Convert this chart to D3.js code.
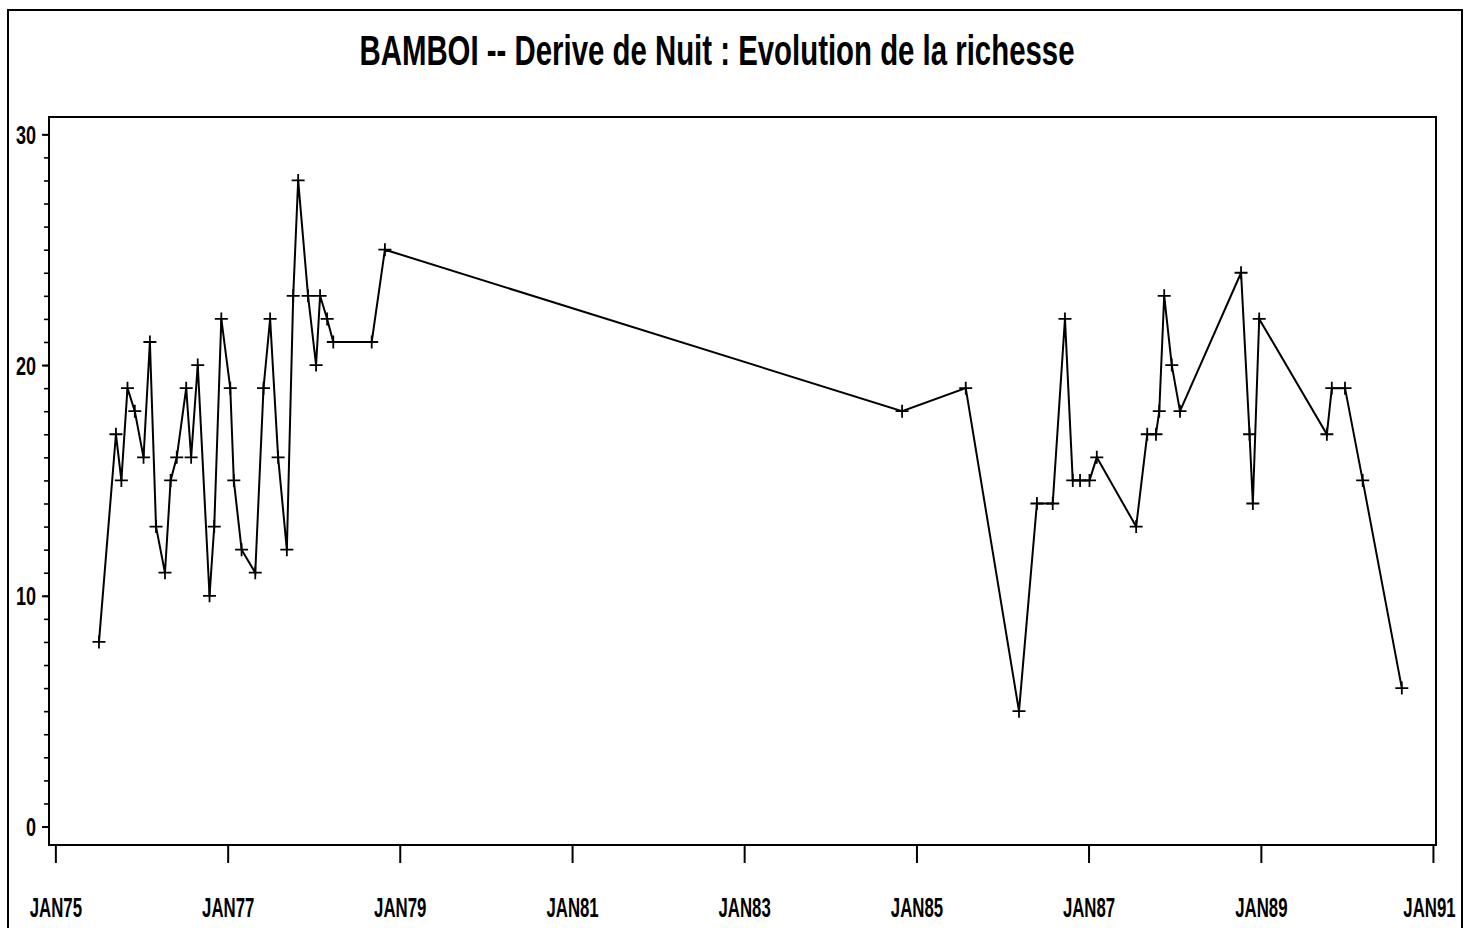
<!DOCTYPE html>
<html>
<head>
<meta charset="utf-8">
<script src="https://cdn.jsdelivr.net/npm/d3@7"></script>
<style>
  html, body { margin: 0; padding: 0; background: #fff; }
  svg { display: block; }
  text { font-family: "Liberation Sans Narrow", "Liberation Sans", Arial, sans-serif; fill: #000; }
</style>
</head>
<body>
<svg id="chart" width="1465" height="928"></svg>
<script>
// Sampling dates (night drift samples) and species richness at each date
const dates = [
  "1975-07-05","1975-09-15","1975-10-08","1975-11-03","1975-12-04",
  "1976-01-10","1976-02-06","1976-03-03","1976-04-10","1976-05-04",
  "1976-05-30","1976-07-09","1976-07-30","1976-08-27","1976-10-16",
  "1976-11-05","1976-12-05","1977-01-12","1977-01-27","1977-03-01",
  "1977-04-28","1977-06-02","1977-06-30","1977-08-03","1977-09-09",
  "1977-10-06","1977-10-27","1977-12-08","1978-01-11","1978-01-28",
  "1978-02-27","1978-03-25","1978-09-04","1978-10-30",
  "1984-11-01","1985-07-29","1986-03-12","1986-05-27","1986-08-02",
  "1986-09-23","1986-10-26","1986-11-26","1987-01-05","1987-02-05",
  "1987-07-22","1987-09-07","1987-10-14","1987-10-28","1987-11-18",
  "1987-12-20","1988-01-24","1988-10-09","1988-11-14","1988-11-28",
  "1988-12-25","1989-10-08","1989-10-29","1989-12-24","1990-03-09",
  "1990-08-22"
];
const richness = [
  8, 17, 15, 19, 18,
  16, 21, 13, 11, 15,
  16, 19, 16, 20, 10,
  13, 22, 19, 15, 12,
  11, 19, 22, 16, 12,
  23, 28, 23, 20, 23,
  22, 21, 21, 25,
  18, 19, 5, 14, 14,
  22, 15, 15, 15, 16,
  13, 17, 17, 18, 23,
  20, 18, 24, 17, 14,
  22, 17, 19, 19, 15,
  6
];
const yTicks = [0, 10, 20, 30];
const yMinorTicks = d3.range(0, 31);
const xTickDates = ["1975-01-01","1977-01-01","1979-01-01","1981-01-01","1983-01-01",
                    "1985-01-01","1987-01-01","1989-01-01","1991-01-01"];
const titleText = "BAMBOI  --  Derive de Nuit : Evolution de la richesse";

const parse = d3.timeParse("%Y-%m-%d");
const data = dates.map((d, i) => ({ date: parse(d), value: richness[i] }));

const svg = d3.select("#chart");
const frame = { left: 49, top: 117, right: 1436, bottom: 845 };

const x = d3.scaleTime()
  .domain([parse("1974-12-05"), parse("1991-01-14")])
  .range([frame.left, frame.right]);
const y = d3.scaleLinear()
  .domain([-0.8, 30.75])
  .range([frame.bottom, frame.top]);

// Squeeze a text horizontally, keeping its anchor point in place
function condense(sel, factor) {
  sel.each(function () {
    const t = d3.select(this);
    const x0 = +t.attr("x") || 0;
    t.attr("x", x0 / factor).attr("transform", `scale(${factor},1)`);
  });
}

// Outer page border
svg.append("rect")
  .attr("x", 8).attr("y", 10)
  .attr("width", 1454).attr("height", 940)
  .attr("fill", "none").attr("stroke", "#000").attr("stroke-width", 2);

// Title
svg.append("text")
  .attr("x", 717).attr("y", 65)
  .attr("text-anchor", "middle")
  .attr("font-size", 42)
  .attr("font-weight", "bold")
  .attr("textLength", 715)
  .attr("lengthAdjust", "spacingAndGlyphs")
  .text(titleText);

// Plot frame
svg.append("rect")
  .attr("x", frame.left).attr("y", frame.top)
  .attr("width", frame.right - frame.left).attr("height", frame.bottom - frame.top)
  .attr("fill", "none").attr("stroke", "#000").attr("stroke-width", 2);

// Y axis: minor ticks every unit, labelled majors every 10
const yMinor = svg.append("g")
  .attr("transform", `translate(${frame.left},0)`)
  .call(d3.axisLeft(y).tickValues(yMinorTicks).tickSize(5).tickFormat(""));
yMinor.select(".domain").remove();
yMinor.selectAll("line").attr("stroke-width", 1.6);

const yAxis = svg.append("g")
  .attr("transform", `translate(${frame.left},0)`)
  .call(d3.axisLeft(y).tickValues(yTicks).tickSize(7).tickPadding(6));
yAxis.select(".domain").remove();
yAxis.selectAll("line").attr("stroke-width", 2);
yAxis.selectAll("text")
  .attr("font-size", 25)
  .attr("font-weight", "bold")
  .attr("dy", "0.36em")
  .call(condense, 0.72);

// X axis: year ticks every two years
const fmt = d3.timeFormat("%b%y");
const xAxis = svg.append("g")
  .attr("transform", `translate(0,${frame.bottom})`)
  .call(d3.axisBottom(x).tickValues(xTickDates.map(parse)).tickSize(18).tickPadding(0)
        .tickFormat(d => fmt(d).toUpperCase()));
xAxis.select(".domain").remove();
xAxis.selectAll("line").attr("stroke-width", 2);
xAxis.selectAll("text")
  .attr("y", 72)
  .attr("dy", 0)
  .attr("font-size", 28)
  .attr("font-weight", "bold");
// keep the last label inside the page border
xAxis.selectAll(".tick:last-of-type text").attr("x", -4);
xAxis.selectAll("text").call(condense, 0.6);

// Series line
const line = d3.line().x(d => x(d.date)).y(d => y(d.value));
svg.append("path")
  .datum(data)
  .attr("d", line)
  .attr("fill", "none")
  .attr("stroke", "#000")
  .attr("stroke-width", 2)
  .attr("stroke-linejoin", "miter");

// Plus markers
const arm = 6.5;
svg.append("g")
  .selectAll("path")
  .data(data)
  .join("path")
  .attr("d", d => {
    const cx = x(d.date), cy = y(d.value);
    return `M${cx - arm},${cy}H${cx + arm}M${cx},${cy - arm}V${cy + arm}`;
  })
  .attr("stroke", "#000")
  .attr("stroke-width", 1.8)
  .attr("fill", "none");
</script>
</body>
</html>
